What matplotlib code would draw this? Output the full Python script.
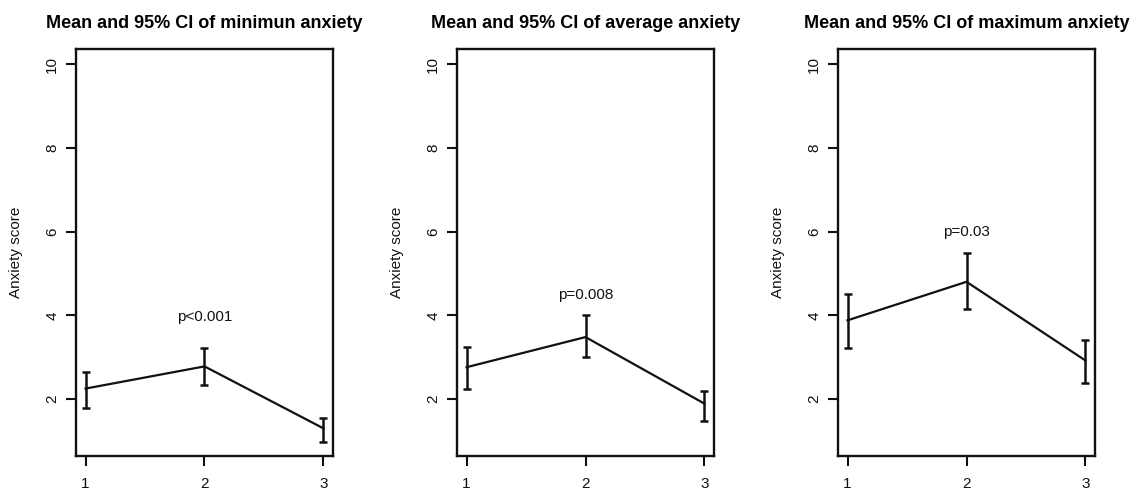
import matplotlib
matplotlib.use("Agg")
import matplotlib.pyplot as plt
import numpy as np

plt.rcParams['font.family'] = ['Liberation Sans', 'DejaVu Sans']

groups = [1, 2, 3]
titles = ["Mean and 95% CI of minimun anxiety",
          "Mean and 95% CI of average anxiety",
          "Mean and 95% CI of maximum anxiety"]
means_min = [2.25, 2.78, 1.30]
lower_min = [1.79, 2.34, 0.97]
upper_min = [2.65, 3.23, 1.55]
means_avg = [2.76, 3.48, 1.89]
lower_avg = [2.24, 3.00, 1.47]
upper_avg = [3.24, 4.00, 2.20]
means_max = [3.88, 4.80, 2.92]
lower_max = [3.21, 4.16, 2.38]
upper_max = [4.50, 5.48, 3.42]
pvals = ["p<0.001", "p=0.008", "p=0.03"]
p_y = [3.97, 4.48, 5.98]
yticks = [2, 4, 6, 8, 10]
ylabel = "Anxiety score"

series = [(means_min, lower_min, upper_min),
          (means_avg, lower_avg, upper_avg),
          (means_max, lower_max, upper_max)]

fig = plt.figure(figsize=(11.36, 4.93), dpi=100)
lefts = [76, 457, 838]
W, H = 1136, 493
for i, left in enumerate(lefts):
    ax = fig.add_axes([left / W, 1 - 456 / H, 257 / W, (456 - 49) / H])
    m, lo, hi = series[i]
    m = np.array(m); lo = np.array(lo); hi = np.array(hi)
    ax.errorbar(groups, m, yerr=[m - lo, hi - m], color='#111111', lw=1.6,
                elinewidth=1.8, capsize=3, capthick=1.8)
    ax.text(2, p_y[i], pvals[i], ha='center', va='center', fontsize=11,
            color='#111111')
    ax.set_xlim(0.92, 3.08)
    ax.set_ylim(0.64, 10.36)
    ax.set_xticks(groups)
    ax.set_yticks(yticks)
    ax.tick_params(axis='both', length=7, width=1.5, direction='out',
                   labelsize=11, colors='#111111')
    ax.tick_params(axis='y', labelrotation=90, pad=5)
    ax.tick_params(axis='x', pad=8)
    for lab in ax.get_yticklabels():
        lab.set_va('center')
    for s in ax.spines.values():
        s.set_linewidth(1.7)
        s.set_color('#111111')
    ax.set_ylabel(ylabel, fontsize=11, color='#111111')
    ax.yaxis.set_label_coords(-0.205, 0.5)
    ax.set_title(titles[i], fontsize=13, fontweight='bold', pad=15)

fig.savefig("out.png", dpi=100)
